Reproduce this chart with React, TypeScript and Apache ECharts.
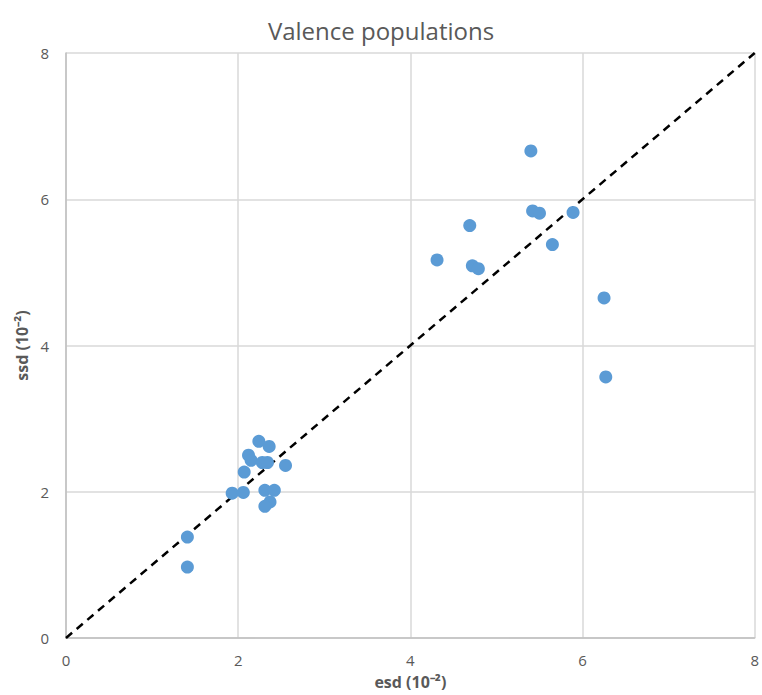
import React, { useEffect, useRef } from "react";
import * as echarts from "echarts";

const esd: number[] = [
  1.41, 1.41, 1.93, 2.06, 2.07, 2.12, 2.15, 2.24, 2.28, 2.34, 2.36, 2.55, 2.31, 2.42, 2.37, 2.31,
  5.40, 5.42, 5.50, 5.89, 4.69, 5.65, 4.31, 4.72, 4.79, 6.25, 6.27,
];
const ssd: number[] = [
  1.38, 0.97, 1.98, 1.99, 2.27, 2.50, 2.43, 2.69, 2.40, 2.40, 2.62, 2.36, 2.02, 2.02, 1.86, 1.80,
  6.66, 5.84, 5.81, 5.82, 5.64, 5.38, 5.17, 5.09, 5.05, 4.65, 3.57,
];
const refLine: number[][] = [
  [0, 0],
  [8, 8],
];
const titleText = "Valence populations";
const xName = "esd (10⁻²)";
const yName = "ssd (10⁻²)";

export default function App() {
  const ref = useRef<HTMLDivElement>(null);
  useEffect(() => {
    if (!ref.current) return;
    const chart = echarts.init(ref.current, null, { renderer: "svg" });
    const font = "'Open Sans', sans-serif";
    chart.setOption({
      animation: false,
      backgroundColor: "#ffffff",
      title: {
        text: titleText,
        left: "center",
        top: 13,
        textStyle: { color: "#595959", fontSize: 24, fontWeight: "normal", fontFamily: font },
      },
      grid: { left: 66, right: 7, top: 53, bottom: 57, containLabel: false },
      xAxis: {
        type: "value",
        min: 0,
        max: 8,
        interval: 2,
        name: xName,
        nameLocation: "middle",
        nameGap: 36,
        nameTextStyle: { color: "#595959", fontSize: 16, fontWeight: "bold", fontFamily: font },
        axisLine: { show: true, lineStyle: { color: "#bfbfbf", width: 1.5 } },
        axisTick: { show: false },
        axisLabel: { color: "#595959", fontSize: 15, margin: 14, fontFamily: font },
        splitLine: { show: true, lineStyle: { color: "#d9d9d9", width: 1.5 } },
      },
      yAxis: {
        type: "value",
        min: 0,
        max: 8,
        interval: 2,
        name: yName,
        nameLocation: "middle",
        nameGap: 30,
        nameTextStyle: { color: "#595959", fontSize: 16, fontWeight: "bold", fontFamily: font },
        axisLine: { show: true, lineStyle: { color: "#bfbfbf", width: 1.5 } },
        axisTick: { show: false },
        axisLabel: { color: "#595959", fontSize: 15, margin: 17, fontFamily: font },
        splitLine: { show: true, lineStyle: { color: "#d9d9d9", width: 1.5 } },
      },
      series: [
        {
          type: "line",
          data: refLine,
          symbol: "none",
          silent: true,
          lineStyle: { color: "#000000", width: 2.5, type: [8, 6] },
          z: 3,
        },
        {
          type: "scatter",
          data: esd.map((v, i) => [v, ssd[i]]),
          symbolSize: 13,
          itemStyle: { color: "#5b9bd5", opacity: 1 },
          z: 4,
        },
      ],
    });
    return () => chart.dispose();
  }, []);
  return (
    <div
      ref={ref}
      style={{ position: "fixed", left: 0, top: 0, width: 762, height: 695 }}
    />
  );
}
